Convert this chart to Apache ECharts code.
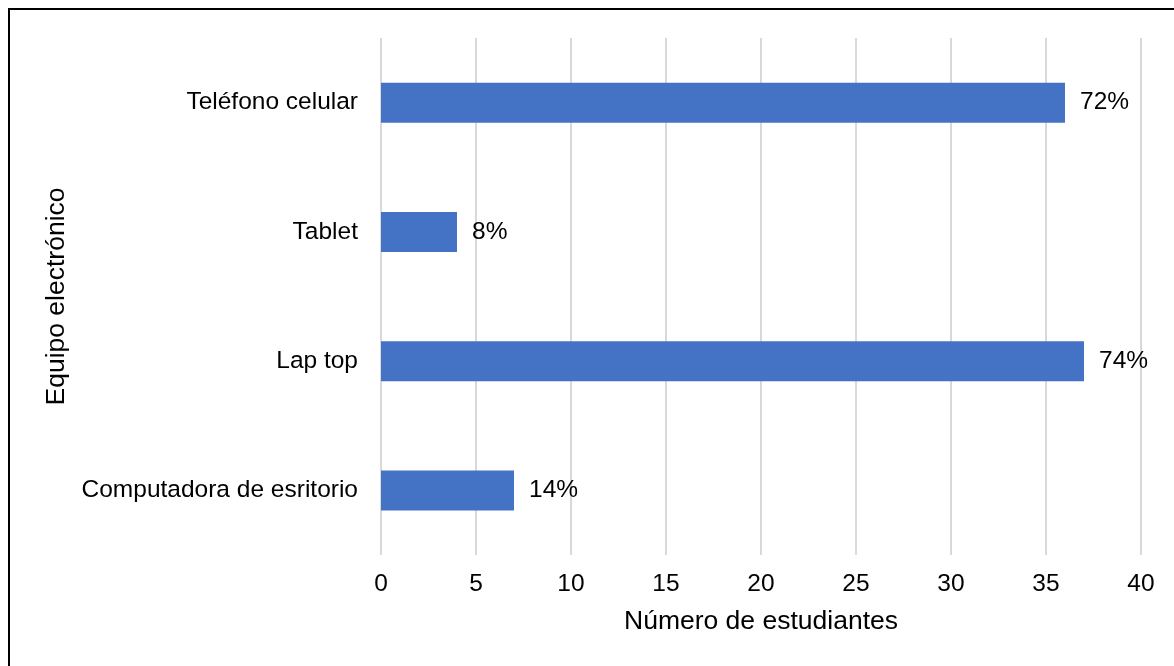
<!DOCTYPE html>
<html>
<head>
<meta charset="utf-8">
<script src="https://cdn.jsdelivr.net/npm/echarts@6/dist/echarts.min.js"></script>
<style>
  html, body { margin: 0; padding: 0; background: #fff; }
  #chart { width: 1174px; height: 666px; }
</style>
</head>
<body>
<div id="chart"></div>
<script>
// Equipment used by the surveyed students
const categories = ['Teléfono celular', 'Tablet', 'Lap top', 'Computadora de esritorio'];
const students = [36, 4, 37, 7];
const totalStudents = 50;
const xTicks = { min: 0, max: 40, interval: 5 };

const FONT = '"Liberation Sans", Arial, sans-serif';

const chart = echarts.init(document.getElementById('chart'));
chart.setOption({
  backgroundColor: '#ffffff',
  animation: false,
  graphic: [{
    type: 'rect',
    shape: { x: 9, y: 9, width: 1300, height: 800 },
    style: { fill: 'none', stroke: '#000', lineWidth: 2 },
    silent: true,
    z: 100
  }],
  grid: { left: 381, right: 33, top: 38, bottom: 111, containLabel: false },
  xAxis: {
    type: 'value',
    min: xTicks.min,
    max: xTicks.max,
    interval: xTicks.interval,
    name: 'Número de estudiantes',
    nameLocation: 'middle',
    nameGap: 53,
    nameTextStyle: { fontFamily: FONT, fontSize: 26.5, color: '#000' },
    axisLine: { show: false },
    axisTick: { show: false },
    axisLabel: { fontFamily: FONT, fontSize: 24.5, color: '#000', margin: 17 },
    splitLine: { show: true, lineStyle: { color: '#d9d9d9', width: 2 } }
  },
  yAxis: {
    type: 'category',
    data: categories,
    inverse: true,
    name: 'Equipo electrónico',
    nameLocation: 'middle',
    nameGap: 310,
    nameTextStyle: { fontFamily: FONT, fontSize: 26.5, color: '#000' },
    axisLine: { show: false },
    axisTick: { show: false },
    axisLabel: { fontFamily: FONT, fontSize: 24.5, color: '#000', margin: 23 },
    splitLine: { show: false }
  },
  series: [{
    type: 'bar',
    data: students,
    barWidth: 40,
    itemStyle: { color: '#4472C4' },
    label: {
      show: true,
      position: 'right',
      distance: 15,
      fontFamily: FONT,
      fontSize: 24.5,
      color: '#000',
      formatter: p => Math.round(p.value / totalStudents * 100) + '%'
    }
  }]
});
</script>
</body>
</html>
